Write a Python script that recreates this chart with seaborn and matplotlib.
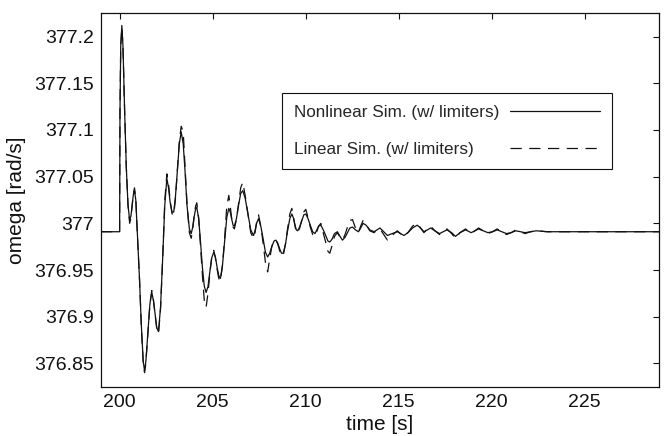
import numpy as np
import pandas as pd
import matplotlib
matplotlib.use("Agg")
import matplotlib.pyplot as plt
import seaborn as sns

# time [s]
t = [199.0, 200.0, 200.02, 200.06, 200.12, 200.18, 200.27, 200.36, 200.45, 200.54,
     200.61, 200.67, 200.74, 200.8, 200.87, 200.95, 201.07, 201.17, 201.27, 201.34,
     201.41, 201.53, 201.63, 201.73, 201.82, 201.91, 202.0, 202.09, 202.2, 202.32,
     202.43, 202.54, 202.63, 202.72, 202.82, 202.91, 203.0, 203.11, 203.21, 203.31,
     203.42, 203.52, 203.62, 203.75, 203.85, 203.93, 204.0, 204.08, 204.15, 204.25,
     204.35, 204.45, 204.55, 204.65, 204.75, 204.85, 204.95, 205.06, 205.15, 205.24,
     205.33, 205.42, 205.53, 205.65, 205.76, 205.87, 205.95, 206.02, 206.1, 206.17,
     206.28, 206.4, 206.51, 206.62, 206.75, 206.9, 207.05, 207.2, 207.28, 207.36,
     207.47, 207.6, 207.72, 207.84, 207.96, 208.07, 208.18, 208.3, 208.4, 208.5,
     208.6, 208.7, 208.8, 208.92, 209.03, 209.15, 209.26, 209.34, 209.42, 209.5,
     209.57, 209.68, 209.8, 209.9, 210.01, 210.13, 210.25, 210.38, 210.5, 210.58,
     210.7, 210.82, 210.95, 211.1, 211.2, 211.3, 211.42, 211.55, 211.71, 211.85,
     211.98, 212.12, 212.25, 212.38, 212.52, 212.68, 212.84, 212.96, 213.09, 213.25,
     213.45, 213.68, 213.84, 214.0, 214.2, 214.4, 214.65, 214.93, 215.1, 215.29,
     215.5, 215.75, 216.0, 216.18, 216.36, 216.55, 216.72, 216.95, 217.2, 217.4,
     217.6, 217.85, 218.06, 218.3, 218.6, 218.9, 219.1, 219.3, 219.55, 219.8,
     220.05, 220.3, 220.55, 220.8, 221.05, 221.3, 221.55, 221.8, 222.1, 222.4,
     223.0, 224.0, 225.0, 226.0, 227.0, 228.0, 229.0]

# Nonlinear simulation (w/ limiters), omega [rad/s]
w_nonlinear = [
    376.991, 376.991, 377.12, 377.19, 377.212, 377.19, 377.12, 377.06, 377.02, 377.003,
    377.008, 377.019, 377.031, 377.035, 377.025, 376.99, 376.94, 376.89, 376.852, 376.842,
    376.852, 376.885, 376.914, 376.926, 376.917, 376.902, 376.888, 376.884, 376.91, 376.965,
    377.02, 377.048, 377.038, 377.022, 377.012, 377.012, 377.028, 377.058, 377.085, 377.098,
    377.085, 377.055, 377.02, 376.994, 376.989, 376.996, 377.006, 377.015, 377.017, 377.005,
    376.98, 376.953, 376.933, 376.926, 376.932, 376.948, 376.963, 376.969, 376.964, 376.953,
    376.944, 376.941, 376.955, 376.982, 377.006, 377.016, 377.012, 377.005, 376.998, 376.997,
    377.005, 377.02, 377.032, 377.035, 377.027, 377.01, 376.993, 376.987, 376.992, 377.0,
    377.005, 376.996, 376.983, 376.969, 376.964, 376.968, 376.975, 376.981, 376.982, 376.979,
    376.973, 376.968, 376.968, 376.978, 376.992, 377.005, 377.01, 377.006, 376.999, 376.993,
    376.992, 376.996, 377.003, 377.009, 377.01, 377.005, 376.998, 376.991, 376.989, 376.992,
    376.997, 376.998, 376.993, 376.986, 376.981, 376.98, 376.983, 376.989, 376.991, 376.986,
    376.982, 376.985, 376.99, 376.995, 376.996, 376.993, 376.991, 376.995, 377.0, 376.998,
    376.993, 376.991, 376.993, 376.995, 376.991, 376.987, 376.989, 376.991, 376.989, 376.987,
    376.99, 376.995, 376.998, 376.995, 376.991, 376.993, 376.995, 376.992, 376.989, 376.991,
    376.993, 376.99, 376.986, 376.99, 376.993, 376.99, 376.992, 376.994, 376.992, 376.99,
    376.991, 376.993, 376.991, 376.989, 376.99, 376.992, 376.991, 376.99, 376.991, 376.992,
    376.991, 376.991, 376.991, 376.991, 376.991, 376.991, 376.991]

# Linear simulation (w/ limiters), omega [rad/s]
w_linear = [
    376.991, 376.991, 377.12, 377.19, 377.21, 377.19, 377.12, 377.06, 377.02, 377.0,
    377.006, 377.018, 377.032, 377.038, 377.027, 376.99, 376.94, 376.888, 376.85, 376.84,
    376.85, 376.884, 376.914, 376.928, 376.918, 376.902, 376.886, 376.882, 376.908, 376.965,
    377.025, 377.053, 377.042, 377.024, 377.01, 377.009, 377.026, 377.058, 377.088, 377.104,
    377.098, 377.06, 377.022, 376.99, 376.984, 376.994, 377.006, 377.018, 377.022, 377.006,
    376.975, 376.945, 376.918, 376.91, 376.925, 376.946, 376.963, 376.971, 376.963, 376.951,
    376.941, 376.938, 376.955, 376.985, 377.018, 377.03, 377.018, 377.006, 376.996, 376.994,
    377.004, 377.022, 377.038, 377.044, 377.03, 377.01, 376.99, 376.984, 376.99, 377.0,
    377.009, 376.996, 376.978, 376.958, 376.948, 376.962, 376.975, 376.982, 376.982, 376.978,
    376.971, 376.965, 376.966, 376.978, 376.994, 377.01, 377.016, 377.008, 376.998, 376.99,
    376.99, 376.995, 377.004, 377.012, 377.015, 377.006, 376.996, 376.988, 376.986, 376.99,
    376.997, 377.0, 376.99, 376.978, 376.97, 376.968, 376.976, 376.986, 376.99, 376.985,
    376.982, 376.988, 376.996, 377.003, 377.004, 376.995, 376.99, 376.997, 377.003, 376.999,
    376.992, 376.99, 376.993, 376.994, 376.988, 376.982, 376.987, 376.992, 376.989, 376.986,
    376.99, 376.997, 377.0, 376.995, 376.99, 376.994, 376.997, 376.992, 376.988, 376.991,
    376.994, 376.989, 376.984, 376.99, 376.994, 376.989, 376.992, 376.995, 376.992, 376.989,
    376.991, 376.994, 376.991, 376.988, 376.99, 376.993, 376.991, 376.989, 376.991, 376.992,
    376.991, 376.991, 376.991, 376.991, 376.991, 376.991, 376.991]

x_ticks = [200, 205, 210, 215, 220, 225]
y_ticks = [376.85, 376.9, 376.95, 377.0, 377.05, 377.1, 377.15, 377.2]
y_tick_labels = ["376.85", "376.9", "376.95", "377", "377.05", "377.1", "377.15", "377.2"]
label_nl = "Nonlinear Sim. (w/ limiters)"
label_li = "Linear Sim. (w/ limiters)"

sns.set_style("white")
plt.rcParams["font.family"] = ["Liberation Sans", "DejaVu Sans"]

fig = plt.figure(figsize=(6.65, 4.36), dpi=100)
ax = fig.add_axes([0.1519, 0.1131, 0.8391, 0.8564])

df_nl = pd.DataFrame({"t": t, "w": w_nonlinear})
df_li = pd.DataFrame({"t": t, "w": w_linear})

DASH = (0, (9, 6))
sns.lineplot(data=df_nl, x="t", y="w", ax=ax, color="#111111", linewidth=0.9,
             label=label_nl, sort=False, estimator=None)
sns.lineplot(data=df_li, x="t", y="w", ax=ax, color="#111111", linewidth=0.9,
             label=label_li, sort=False, estimator=None)
ax.lines[1].set_linestyle(DASH)

ax.set_xlim(199, 229)
ax.set_ylim(376.825, 377.225)
ax.set_xticks(x_ticks)
ax.set_xticklabels([str(v) for v in x_ticks])
ax.set_yticks(y_ticks)
ax.set_yticklabels(y_tick_labels)
ax.tick_params(direction="in", length=4, width=0.8, top=True, right=True,
               labelsize=14, colors="#111111", pad=5)
for s in ax.spines.values():
    s.set_visible(True)
    s.set_color("#111111")
    s.set_linewidth(0.9)

ax.set_xlabel("time [s]", fontsize=15, color="#111111", labelpad=3)
ax.set_ylabel("omega [rad/s]", fontsize=15, color="#111111", labelpad=6)

FS = 12.3
TPAD = 0.6
leg = ax.legend(loc="upper left", bbox_to_anchor=(282 / 665, 1 - 93 / 436),
                bbox_transform=fig.transFigure, borderaxespad=0, markerfirst=False,
                fontsize=FS, handlelength=5.3, labelspacing=1.3, borderpad=0.7,
                fancybox=False, framealpha=1, edgecolor="#111111", handletextpad=TPAD)
leg.get_frame().set_linewidth(0.8)
leg.legend_handles[1].set_linestyle(DASH)

# left-align the labels while keeping the sample lines aligned on the right
vbox = leg._legend_handle_box.get_children()[0]
vbox.align = "left"
fig.canvas.draw()
r = fig.canvas.get_renderer()
widths = [tx.get_window_extent(r).width for tx in leg.get_texts()]
wmax = max(widths)
for hp, w in zip(vbox.get_children(), widths):
    hp.sep = TPAD * FS + (wmax - w) * 72 / fig.dpi

fig.savefig("out.png", dpi=100)
